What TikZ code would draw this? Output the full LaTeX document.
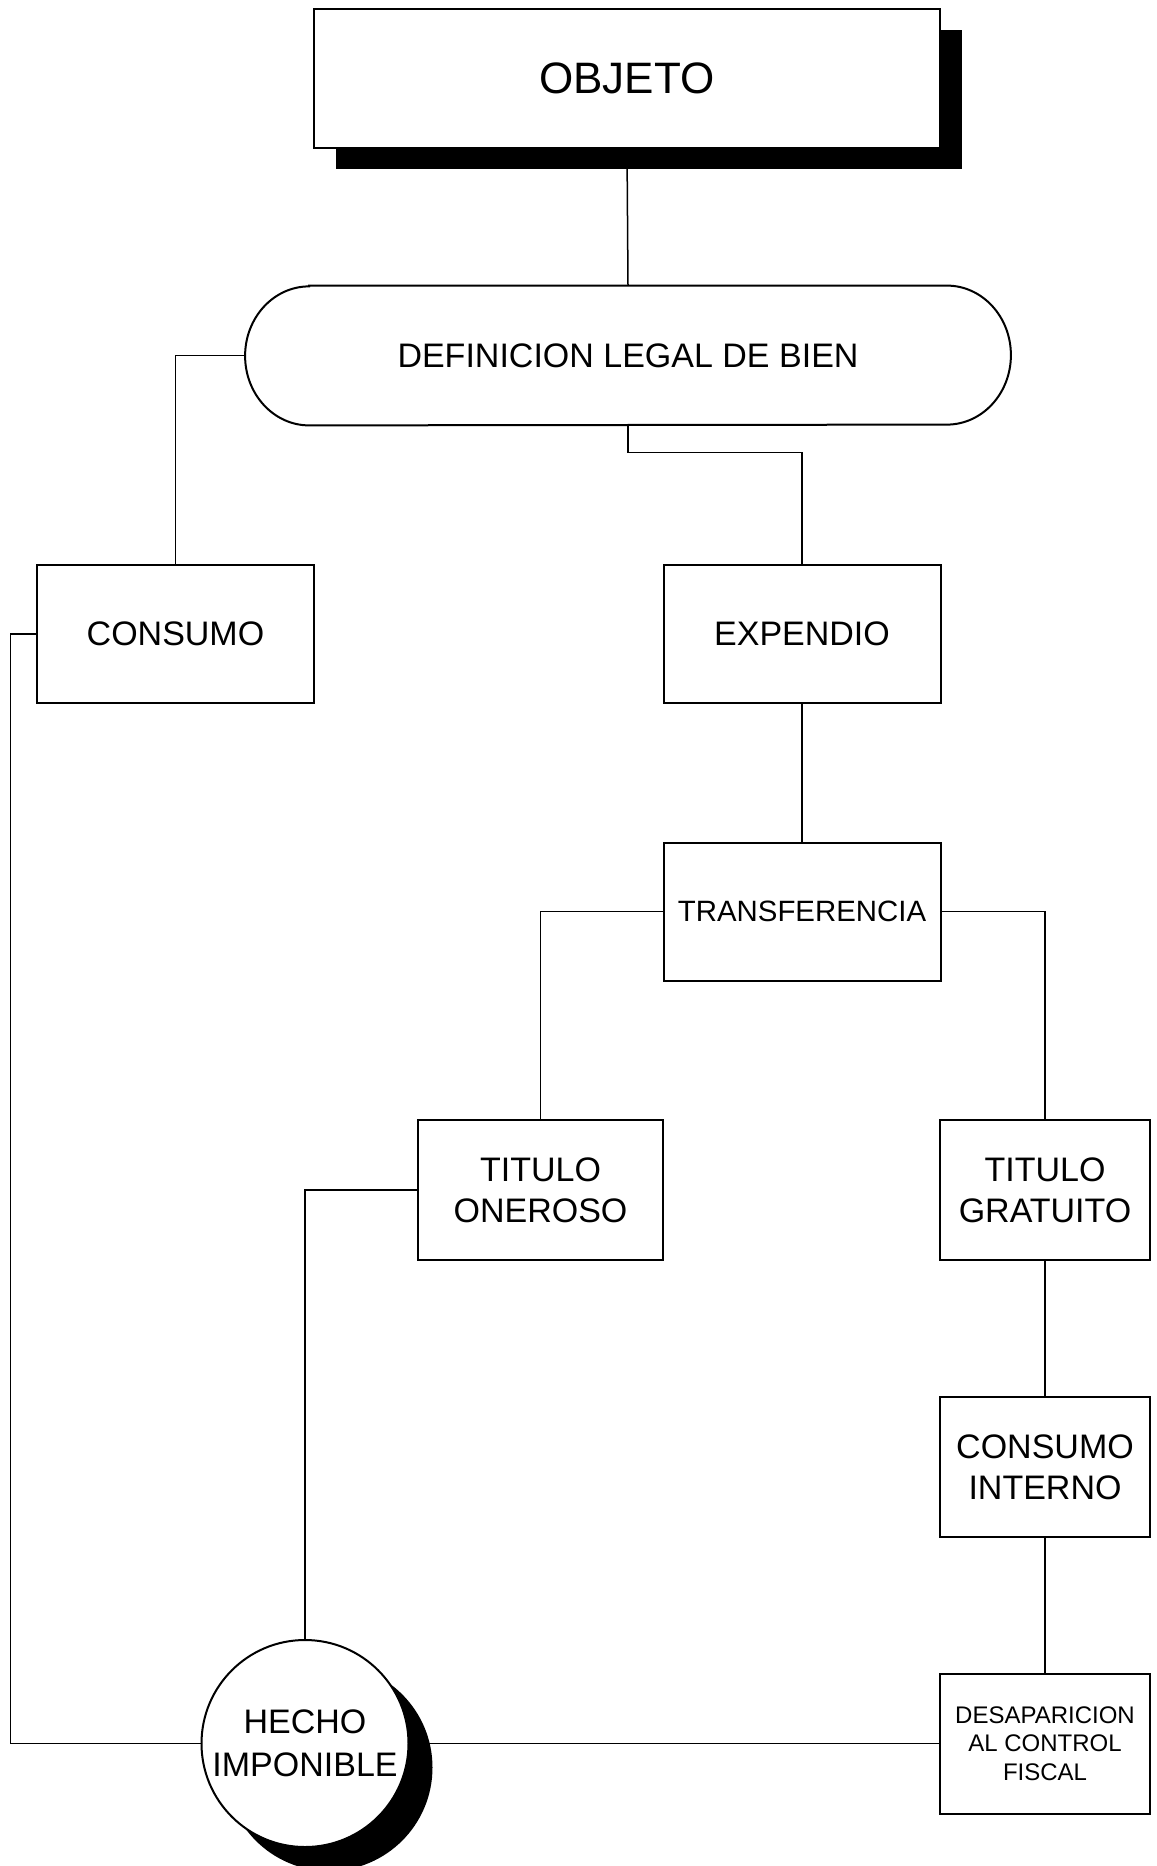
\documentclass[tikz,border=0pt]{standalone}
\usepackage{fontspec}
\setmainfont{Liberation Sans}
\usetikzlibrary{positioning, shadows}

\tikzset{
	box/.style={draw, rectangle, line width=1pt, fill=white, inner sep=2pt,
		align=center, font=\fontsize{17}{20.5}\selectfont},
	widebox/.style={box, minimum width=138.5pt, minimum height=69pt},
	narrowbox/.style={box, minimum width=104.75pt, minimum height=70pt},
	link/.style={line width=0.75pt},
}

\begin{document}
\begin{tikzpicture}[x=0.5pt, y=-0.5pt]

	    \useasboundingbox (0,0) rectangle (1156,1866);

	    % top box
	    \node[box, minimum width=313pt, minimum height=69.25pt,
	        font=\fontsize{22}{26}\selectfont,
	        drop shadow={shadow xshift=11pt, shadow yshift=-10.5pt, fill=black, opacity=1}]
	        (obj) at (627,78.5) {OBJETO};

	    % rounded definition box
	    \node[rectangle, minimum width=382.5pt, minimum height=69.5pt,
	        font=\fontsize{17}{20.5}\selectfont]
	        (def) at (628,355.5) {DEFINICION LEGAL DE BIEN};
	    \draw[line width=1pt]
	        ([xshift=32pt]def.north west) -- ([xshift=-32pt]def.north east)
	        arc[start angle=90, end angle=-90, x radius=32pt, y radius=34.75pt]
	        -- ([xshift=32pt]def.south west)
	        arc[start angle=270, end angle=90, x radius=32pt, y radius=34.75pt]
	        -- cycle;

	    % second level
	    \node[widebox] (cons) at (175.5,634) {CONSUMO};
	    \node[widebox] (exp)  at (802,634)   {EXPENDIO};
	    \node[widebox, font=\fontsize{14.7}{17}\selectfont]
	        (trans) at (802,911.5) {TRANSFERENCIA};

	    % titles
	    \node[box, minimum width=122.25pt, minimum height=69.75pt]
	        (oner) at (540.5,1190) {TITULO\\ONEROSO};
	    \node[narrowbox] (grat)  at (1045,1190) {TITULO\\GRATUITO};
	    \node[narrowbox] (cint)  at (1045,1467) {CONSUMO\\INTERNO};
	    \node[narrowbox, font=\fontsize{12}{14.25}\selectfont]
	        (desap) at (1045,1743.5) {DESAPARICION\\AL CONTROL\\FISCAL};

	    % round node
	    \node[circle, draw, line width=1pt, fill=white, minimum size=103.5pt,
	        inner sep=0pt, align=center, font=\fontsize{17}{21.5}\selectfont,
	        drop shadow={shadow xshift=12pt, shadow yshift=-12pt, fill=black, opacity=1}]
	        (hecho) at (305,1743.5) {HECHO\\IMPONIBLE};

	    % connectors
	    \draw[link] (obj.south) -- (def.north);
	    \draw[link] (def.west) -| (cons.north);
	    \draw[link] (def.south) -- ++(0,27) -| (exp.north);
	    \draw[link] (exp.south) -- (trans.north);
	    \draw[link] (trans.west) -| (oner.north);
	    \draw[link] (trans.east) -| (grat.north);
	    \draw[link] (grat.south) -- (cint.north);
	    \draw[link] (cint.south) -- (desap.north);
	    \draw[link] (oner.west) -| (hecho.north);
	    \draw[link] (cons.west) -- ++(-25.5,0) |- (hecho.west);
	    \draw[link] (hecho.east) -- (desap.west);

\end{tikzpicture}
\end{document}
